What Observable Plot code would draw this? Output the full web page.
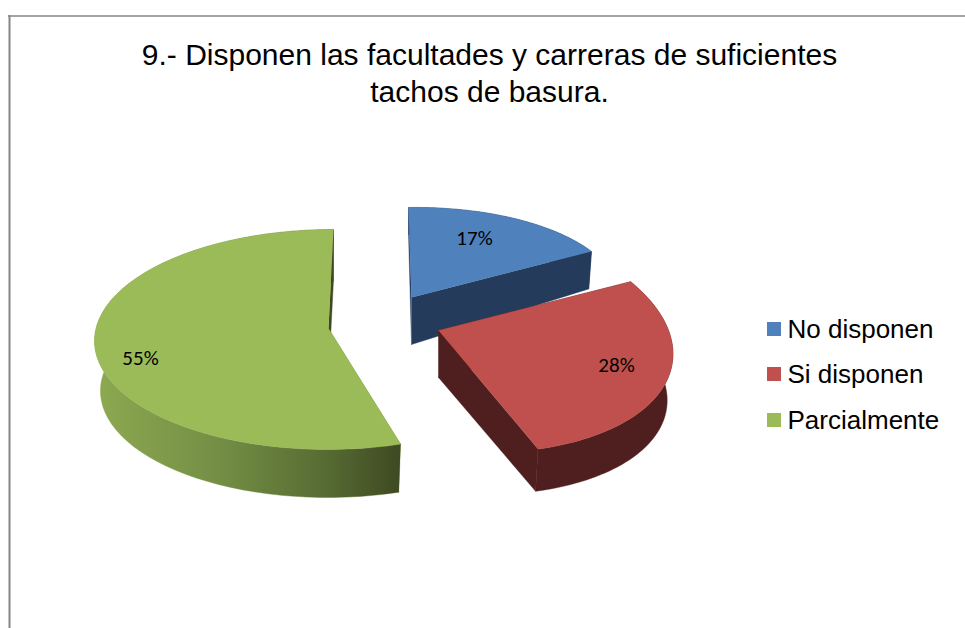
<!DOCTYPE html>
<html><head><meta charset="utf-8">
<script src="https://cdn.jsdelivr.net/npm/d3@7"></script>
<script src="https://cdn.jsdelivr.net/npm/@observablehq/plot@0.6"></script>
<style>html,body{margin:0;padding:0;background:#fff}svg{display:block}</style>
</head><body><div id="chart"></div>
<script>
// Data
const categories = ["No disponen", "Si disponen", "Parcialmente"];
const shares = [17, 28, 55];
const titleLines = ["9.- Disponen las facultades y carreras de suficientes", "tachos de basura."];

// Styles
const topColors = ["#4F81BD", "#C0504D", "#9BBB59"];
const sideColors = ["#243B5B", "#4E1F1E", "url(#greenSide)"];
const startFaceColors = ["#243B5B", "#4E1F1E", "#7C9A45"];

// Perspective frame of each exploded slice (ellipse centre, axes, apex, extrusion)
const frames = [
  {cx: 411, cy: 297, ux: 207, uy: -3, vx: -3, vy: -90, ax: 411, ay: 297, depth: 47, fall: 20, shrink: 0.985},
  {cx: 442, cy: 332, ux: 229, uy: 8, vx: -26, vy: -120, ax: 438, ay: 330, depth: 47, fall: -5, shrink: 0.975},
  {cx: 330, cy: 339, ux: 236, uy: 0, vx: 3, vy: -110, ax: 328, ay: 328, depth: 50, fall: -2, shrink: 0.975}
];
const labelAnchors = [[474, 238], [616, 365], [140, 358]];
const legendRows = [329, 374, 420];

const arcs = d3.pie().sort(null)(shares);
const rimPoint = (f, a, lower) => {
  const s = Math.sin(a), c = Math.cos(a);
  const x = f.ux * s + f.vx * c, y = f.uy * s + f.vy * c;
  if (!lower) return {x: f.cx + x, y: f.cy + y};
  return {x: f.cx + x * f.shrink, y: f.cy + y + f.depth - f.fall * c};
};
const rim = (f, d, lower) => d3.range(0, 61).map(i =>
  rimPoint(f, d.startAngle + (d.endAngle - d.startAngle) * i / 60, lower));
const apexLow = f => ({x: f.ax, y: f.ay + f.depth});

const polys = arcs.map((d, i) => {
  const f = frames[i], up = rim(f, d, false), low = rim(f, d, true);
  const apex = {x: f.ax, y: f.ay}, apexB = apexLow(f);
  return {
    top: [apex, ...up],
    outer: [...up, ...low.slice().reverse()],
    startFace: [apex, up[0], low[0], apexB],
    endFace: [apex, up[60], low[60], apexB]
  };
});

const poly = (pts, fill) => Plot.line(pts, {x: "x", y: "y", fill, stroke: fill, strokeWidth: 0.4, curve: "linear"});

const defs = () => {
  const s = d3.create("svg:defs");
  const g = s.append("linearGradient").attr("id", "greenSide").attr("x1", 0).attr("x2", 1).attr("y1", 0).attr("y2", 0);
  [[0, "#8DA950"], [0.4, "#748F45"], [0.75, "#576C33"], [1, "#3E4A22"]].forEach(([o, c]) =>
    g.append("stop").attr("offset", o).attr("stop-color", c));
  return s.node();
};

const sliceMarks = i => [
  poly(polys[i].startFace, startFaceColors[i]),
  poly(polys[i].outer, sideColors[i]),
  poly(polys[i].endFace, i === 2 ? "#3E4A22" : sideColors[i]),
  poly(polys[i].top, topColors[i])
];

const labels = shares.map((v, i) => ({t: v + "%", x: labelAnchors[i][0], y: labelAnchors[i][1]}));
const legend = categories.map((c, i) => ({c, y: legendRows[i], color: topColors[i]}));
const titleRows = titleLines.map((t, i) => ({t, x: 489, y: 55 + i * 37}));

const chart = Plot.plot({
  width: 965, height: 628, margin: 0,
  x: {domain: [0, 965], range: [0, 965], axis: null},
  y: {domain: [0, 628], range: [0, 628], axis: null},
  style: {background: "#fff"},
  marks: [
    defs,
    Plot.ruleY([15.5], {x1: 8, x2: 965, stroke: "#868686", strokeWidth: 1.5}),
    Plot.ruleX([9], {y1: 15, y2: 628, stroke: "#868686", strokeWidth: 2}),
    ...sliceMarks(2),
    ...sliceMarks(0),
    ...sliceMarks(1),
    Plot.text(labels, {x: "x", y: "y", text: "t", fontFamily: "Carlito, 'Open Sans', sans-serif", fontSize: 21, fill: "#000"}),
    Plot.text(titleRows, {x: "x", y: "y", text: "t", fontFamily: "'Liberation Sans', sans-serif", fontSize: 30, fill: "#000"}),
    Plot.rect(legend, {x1: () => 767, x2: () => 781, y1: d => d.y - 7, y2: d => d.y + 7, fill: "color"}),
    Plot.text(legend, {x: () => 787, y: "y", text: "c", textAnchor: "start", fontFamily: "'Liberation Sans', sans-serif", fontSize: 26, fill: "#000"})
  ]
});
document.getElementById("chart").append(chart);
</script></body></html>
